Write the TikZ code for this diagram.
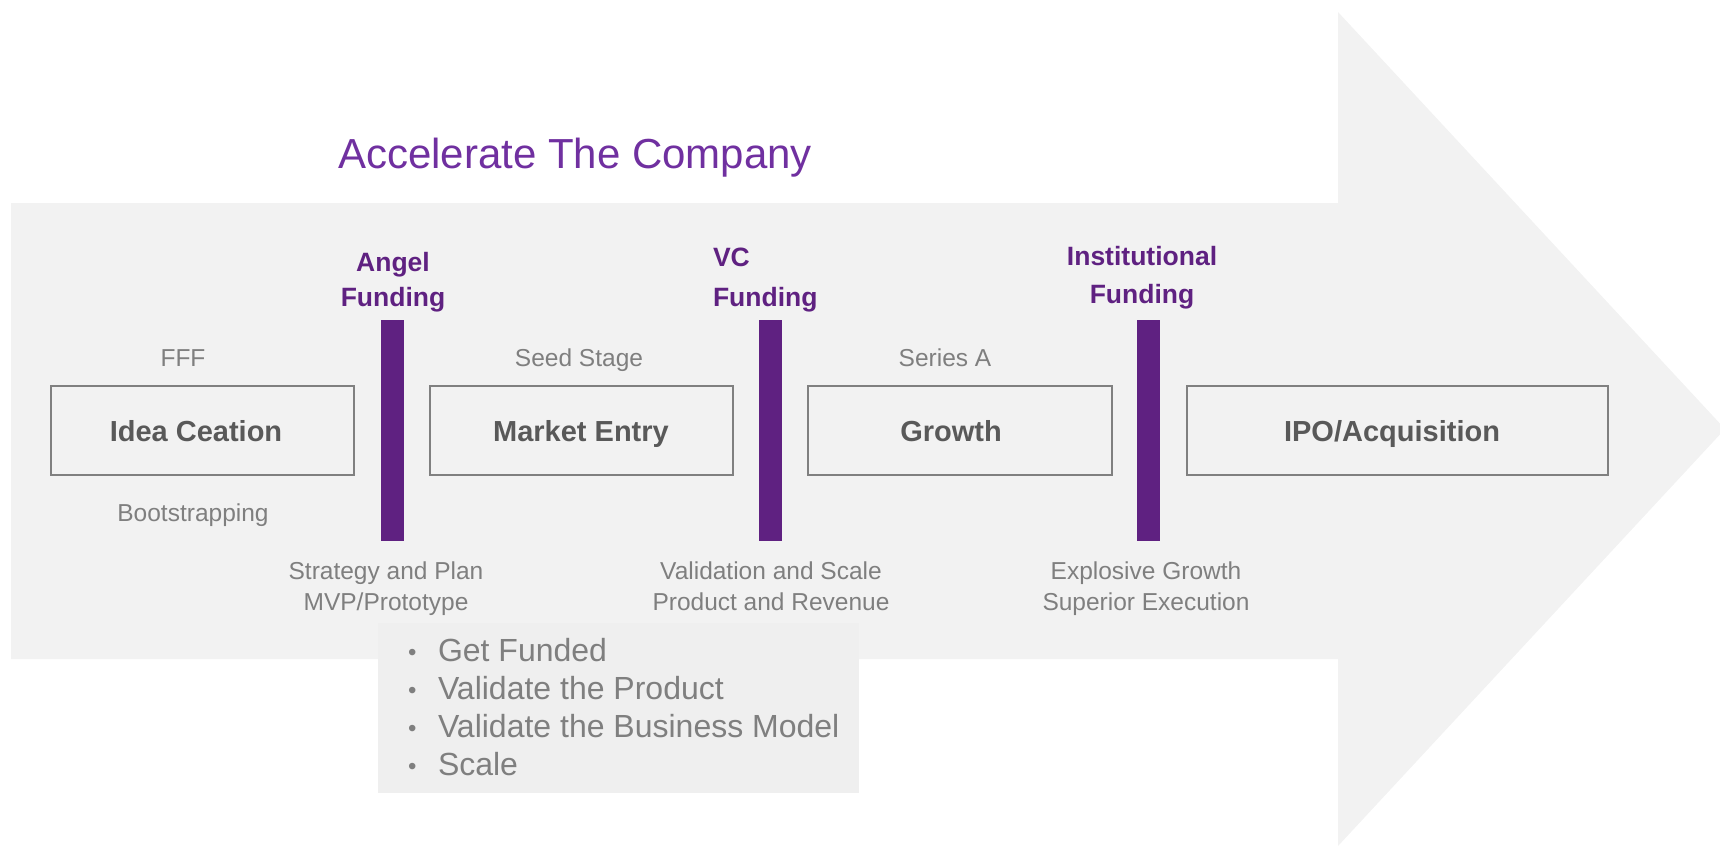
\documentclass[tikz,border=0pt]{standalone}
\usepackage{fontspec}
\setmainfont{Liberation Sans}
\definecolor{band}{HTML}{F2F2F2}
\definecolor{listbg}{HTML}{EFEFEF}
\definecolor{titlec}{HTML}{7030A0}
\definecolor{fund}{HTML}{5F2181}
\definecolor{barc}{HTML}{5F2181}
\definecolor{edge}{HTML}{808080}
\definecolor{lbl}{HTML}{595959}
\definecolor{note}{HTML}{7F7F7F}
\begin{document}
\begin{tikzpicture}[x=1pt,y=-1pt,
  every node/.style={inner sep=0pt, outer sep=0pt},
  stagebox/.style={draw=edge, line width=2.5pt, fill=band, minimum height=89pt},
  stagename/.style={font=\fontsize{29}{35}\selectfont\bfseries, text=lbl, anchor=base},
  fundbar/.style={fill=barc, minimum width=23pt, minimum height=221pt},
  fundlabel/.style={font=\fontsize{26.5}{#1}\selectfont\bfseries, text=fund, anchor=base},
  notelabel/.style={font=\fontsize{24.5}{31}\selectfont, text=note, anchor=base, align=center},
]
\useasboundingbox (0,0) rectangle (1720,846);

% big process arrow
\fill[band] (11,203) -- (1338,203) -- (1338,12) -- (1725,429) -- (1338,846)
  -- (1338,659) -- (11,659) -- cycle;

% heading
\node[anchor=base west, text=titlec, font=\fontsize{42}{50}\selectfont] (title)
  at (338,168) {Accelerate The Company};

% stage boxes
\node[stagebox, minimum width=303pt] (idea)   at (202.5,430.5) {};
\node[stagebox, minimum width=303pt] (market) at (581.5,430.5) {};
\node[stagebox, minimum width=304pt] (growth) at (960,430.5) {};
\node[stagebox, minimum width=421pt] (exit)   at (1397.5,430.5) {};

\node[stagename] (idea-t)   at (196,441)  {Idea Ceation};
\node[stagename] (market-t) at (581,441)  {Market Entry};
\node[stagename] (growth-t) at (951,441)  {Growth};
\node[stagename] (exit-t)   at (1392,441) {IPO/Acquisition};

% funding bars
\node[fundbar] (bar1) at (392,430.5) {};
\node[fundbar] (bar2) at (770,430.5) {};
\node[fundbar] (bar3) at (1148,430.5) {};

% funding labels (anchored on the baseline of their last line)
\node[fundlabel=35, align=center] (angel) at (393,306) {Angel\\Funding};
\node[fundlabel=40, align=left, anchor=base west] (vc) at (713,306) {VC\\Funding};
\node[fundlabel=38, align=center] (inst) at (1142,303) {Institutional\\Funding};

% stage notes
\node[notelabel] (fff)   at (183,366) {FFF};
\node[notelabel] (seed)  at (579,366) {Seed Stage};
\node[notelabel] (serA)  at (945,366) {Series A};
\node[notelabel] (boot)  at (193,521) {Bootstrapping};

\node[notelabel] (n1) at (386,610)  {Strategy and Plan\\MVP/Prototype};
\node[notelabel] (n2) at (771,610)  {Validation and Scale\\Product and Revenue};
\node[notelabel] (n3) at (1146,610) {Explosive Growth\\Superior Execution};

% goals list
\node[fill=listbg, minimum width=481pt, minimum height=170pt] (goals) at (618.5,708) {};
\node[anchor=base west, align=left, text=note, font=\fontsize{32}{37.8}\selectfont]
  (goals-t) at (408,775) {%
  \makebox[30pt][l]{\fontsize{24}{24}\selectfont\raisebox{1pt}{•}}Get Funded\\
  \makebox[30pt][l]{\fontsize{24}{24}\selectfont\raisebox{1pt}{•}}Validate the Product\\
  \makebox[30pt][l]{\fontsize{24}{24}\selectfont\raisebox{1pt}{•}}Validate the Business Model\\
  \makebox[30pt][l]{\fontsize{24}{24}\selectfont\raisebox{1pt}{•}}Scale};
\end{tikzpicture}
\end{document}
